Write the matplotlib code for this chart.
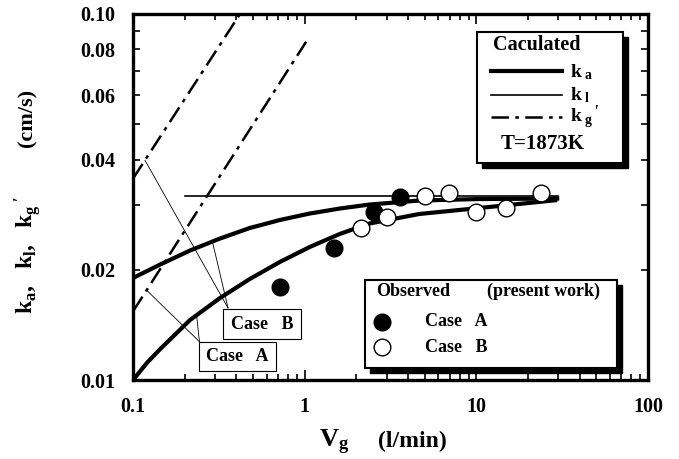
import numpy as np
import matplotlib
matplotlib.use("Agg")
import matplotlib.pyplot as plt
from matplotlib.patches import Rectangle
from matplotlib.lines import Line2D
from matplotlib.ticker import FixedLocator, NullFormatter

plt.rcParams["font.family"] = ["Liberation Serif", "DejaVu Serif"]
plt.rcParams["font.weight"] = "bold"
plt.rcParams["mathtext.fontset"] = "custom"
plt.rcParams["mathtext.rm"] = "Liberation Serif:bold"
plt.rcParams["mathtext.bf"] = "Liberation Serif:bold"
plt.rcParams["mathtext.it"] = "Liberation Serif:bold"

# calculated apparent rate constant k_a, case A (lower) and case B (upper)
vg_ka_a = [0.1, 0.121, 0.144, 0.215, 0.321, 0.479, 0.716, 1.07, 1.60, 2.39, 4.66, 10.4, 29.6]
ka_a = [0.0100, 0.01116, 0.01215, 0.01459, 0.01675, 0.01888, 0.02101, 0.02309,
        0.02506, 0.02677, 0.02842, 0.02951, 0.03102]
vg_ka_b = [0.1, 0.144, 0.215, 0.321, 0.479, 0.716, 1.07, 1.60, 2.39, 4.66, 10.4, 30.4]
ka_b = [0.01900, 0.02068, 0.02259, 0.02435, 0.02602, 0.02736, 0.02850,
        0.02941, 0.03016, 0.03093, 0.03122, 0.03132]

# liquid-side mass transfer coefficient k_l
vg_kl = [0.2, 30.0]
kl = [0.0319, 0.0319]

# gas-side coefficient k_g', case A and case B
vg_kg_a = [0.1, 1.02]
kg_a = [0.0154, 0.084]
vg_kg_b = [0.1, 0.42]
kg_b = [0.0355, 0.100]

# observed values (present work)
vg_obs_a = [0.72, 1.49, 2.52, 3.57]
k_obs_a = [0.0180, 0.0229, 0.0288, 0.0316]
vg_obs_b = [2.12, 3.03, 5.05, 6.97, 9.96, 14.9, 23.8]
k_obs_b = [0.0260, 0.0278, 0.0318, 0.0325, 0.0288, 0.0296, 0.0325]

xticks = [0.1, 1, 10, 100]
xtick_labels = ["0.1", "1", "10", "100"]
yticks = [0.01, 0.02, 0.04, 0.06, 0.08, 0.10]
ytick_labels = ["0.01", "0.02", "0.04", "0.06", "0.08", "0.10"]
yminor = [0.03, 0.05, 0.07, 0.09]


def on_curve(v, xs, ys):
    return 10 ** np.interp(np.log10(v), np.log10(xs), np.log10(ys))


fig = plt.figure(figsize=(6.79, 4.59), dpi=100)
ax = fig.add_axes([0.1959, 0.1721, 0.7585, 0.7974])
ax.set_xscale("log")
ax.set_yscale("log")
ax.set_xlim(0.1, 100)
ax.set_ylim(0.01, 0.10)

DASHDOT = (0, (7, 2.5, 1.5, 2.5))

ax.plot(vg_ka_a, ka_a, color="black", lw=3.0, solid_capstyle="butt",
        solid_joinstyle="round", zorder=3)
ax.plot(vg_ka_b, ka_b, color="black", lw=3.0, solid_capstyle="butt",
        solid_joinstyle="round", zorder=3)
ax.plot(vg_kl, kl, color="black", lw=1.2, zorder=3)
ax.plot(vg_kg_a, kg_a, color="black", lw=1.8, linestyle=DASHDOT, zorder=3)
ax.plot(vg_kg_b, kg_b, color="black", lw=1.8, linestyle=DASHDOT, zorder=3)

ax.plot(vg_obs_a, k_obs_a, "o", ms=12, mfc="black", mec="black", zorder=5)
ax.plot(vg_obs_b, k_obs_b, "o", ms=12, mfc="white", mec="black", mew=1.0, zorder=5)

# axes styling
for sp in ax.spines.values():
    sp.set_linewidth(2.4)
ax.xaxis.set_major_locator(FixedLocator(xticks))
ax.set_xticklabels(xtick_labels)
ax.yaxis.set_major_locator(FixedLocator(yticks))
ax.set_yticklabels(ytick_labels)
ax.yaxis.set_minor_locator(FixedLocator(yminor))
ax.yaxis.set_minor_formatter(NullFormatter())
ax.xaxis.set_minor_formatter(NullFormatter())
ax.tick_params(which="both", direction="in", top=True, right=True, width=1.2)
ax.tick_params(axis="x", which="major", length=7, pad=12, labelsize=14.5)
ax.tick_params(axis="x", which="minor", length=4)
ax.tick_params(axis="y", which="both", length=5, pad=13, labelsize=14.5)
for lab in ax.get_xticklabels() + ax.get_yticklabels():
    lab.set_fontweight("bold")

# axis titles
fig.text(0.041, 0.444, r"$\mathbf{k_a,\ \ k_l,\ \ k_g\,'}$", rotation=90,
         ha="center", va="center", fontsize=17)
fig.text(0.041, 0.742, "(cm/s)", rotation=90, ha="center", va="center",
         fontsize=16, fontweight="bold")
fig.text(0.492, 0.026, r"$\mathbf{V_g}$", ha="center", va="baseline", fontsize=19)
fig.text(0.607, 0.026, "(l/min)", ha="center", va="baseline", fontsize=17,
         fontweight="bold")


def shadow_box(x0, y0, x1, y1, lw=1.5, shadow=True):
    dx, dy = 5 / 515, 5 / 366
    if shadow:
        ax.add_patch(Rectangle((x0 + dx, y0 - dy), x1 - x0, y1 - y0,
                               transform=ax.transAxes, facecolor="black",
                               edgecolor="black", zorder=6))
    ax.add_patch(Rectangle((x0, y0), x1 - x0, y1 - y0, transform=ax.transAxes,
                           facecolor="white", edgecolor="black", lw=lw, zorder=7))


# legend: calculated curves
shadow_box(0.667, 0.592, 0.951, 0.952)
ax.text(0.699, 0.915, "Caculated", transform=ax.transAxes, ha="left",
        va="center", fontsize=14.5, zorder=8)
rows = [0.844, 0.779, 0.719]
styles = [dict(lw=3.0), dict(lw=1.2), dict(lw=1.8, linestyle=DASHDOT)]
names = [r"$\mathbf{k_{\ a}}$", r"$\mathbf{k_{\ l}}$", r"$\mathbf{k_{\ g}\,'}$"]
for yy, st, nm in zip(rows, styles, names):
    ax.add_line(Line2D([0.695, 0.832], [yy, yy], transform=ax.transAxes,
                       color="black", zorder=8, **st))
    ax.text(0.848, yy - 0.016, nm, transform=ax.transAxes, ha="left",
            va="baseline", fontsize=14, zorder=8)
ax.text(0.796, 0.645, "T=1873K", transform=ax.transAxes, ha="center",
        va="center", fontsize=15, zorder=8)

# legend: observed points
shadow_box(0.4505, 0.032, 0.939, 0.273)
ax.text(0.473, 0.241, "Observed", transform=ax.transAxes, ha="left",
        va="center", fontsize=13, zorder=8)
ax.text(0.687, 0.241, "(present work)", transform=ax.transAxes, ha="left",
        va="center", fontsize=13, zorder=8)
ax.add_line(Line2D([0.483], [0.159], transform=ax.transAxes, marker="o", ms=12,
                   mfc="black", mec="black", ls="none", zorder=8))
ax.add_line(Line2D([0.483], [0.089], transform=ax.transAxes, marker="o", ms=12,
                   mfc="white", mec="black", mew=1.0, ls="none", zorder=8))
ax.text(0.566, 0.159, "Case   A", transform=ax.transAxes, ha="left",
        va="center", fontsize=13, zorder=8)
ax.text(0.566, 0.089, "Case   B", transform=ax.transAxes, ha="left",
        va="center", fontsize=13, zorder=8)

# case labels with leader lines
shadow_box(0.1748, 0.112, 0.3262, 0.194, lw=0.8, shadow=False)
ax.text(0.2505, 0.153, "Case   B", transform=ax.transAxes, ha="center",
        va="center", fontsize=13, zorder=8)
shadow_box(0.128, 0.0254, 0.2777, 0.1046, lw=0.8, shadow=False)
ax.text(0.2029, 0.065, "Case   A", transform=ax.transAxes, ha="center",
        va="center", fontsize=13, zorder=8)

leader = dict(arrowstyle="-", color="black", lw=0.6, shrinkA=0, shrinkB=0)
for v, xs, ys, tip in [(0.1174, vg_kg_b, kg_b, (0.1845, 0.1967)),
                       (0.290, vg_ka_b, ka_b, (0.1845, 0.1967)),
                       (0.120, vg_kg_a, kg_a, (0.129, 0.1046)),
                       (0.2346, vg_ka_a, ka_a, (0.129, 0.1046))]:
    ax.annotate("", xy=(v, on_curve(v, xs, ys)), xycoords="data",
                xytext=tip, textcoords="axes fraction", arrowprops=leader,
                zorder=4)

fig.savefig("out.png", dpi=100)
